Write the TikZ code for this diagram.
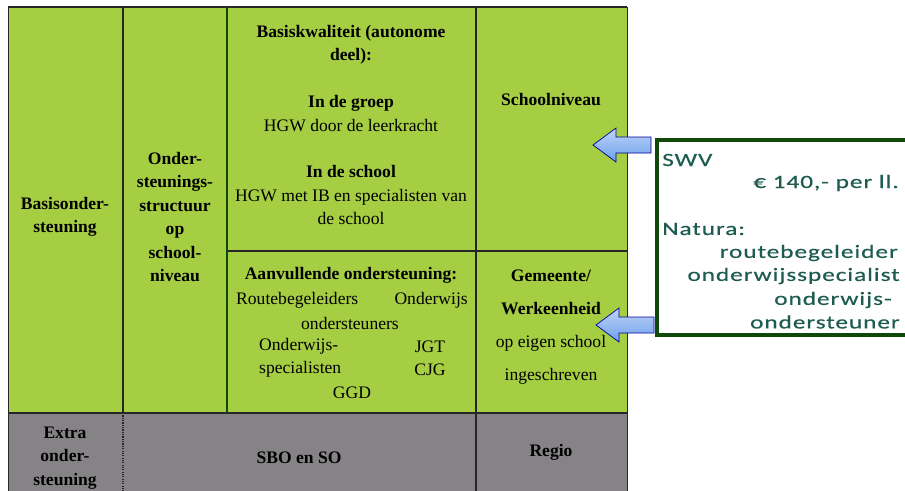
\documentclass[tikz,border=0pt]{standalone}
\usepackage{fontspec}
\setmainfont{Liberation Serif}
\newfontfamily\boxfont[FakeStretch=1.35,LetterSpace=5,FakeBold=0.4]{Carlito}
\usetikzlibrary{shapes,arrows,positioning}

\definecolor{cellgreen}{RGB}{166,206,66}
\definecolor{cellgray}{RGB}{134,131,134}
\definecolor{rimgreen}{RGB}{16,72,10}
\definecolor{boxtext}{RGB}{30,92,80}
\definecolor{arrowblue}{RGB}{110,160,235}

\tikzstyle{cell} = [font=\fontsize{15}{20}\selectfont, align=center, text=black, inner sep=0pt]
\tikzstyle{hcell} = [cell, font=\fontsize{15}{20}\selectfont\bfseries]
\tikzstyle{grid} = [line width=1pt, black!85]
\tikzstyle{boxline} = [font=\boxfont\fontsize{16}{20}\selectfont, text=boxtext, inner sep=0pt]
\tikzstyle{blockarrow} = [draw=blue!60!black, line width=0.6pt, top color=arrowblue!45!white, bottom color=arrowblue]

\begin{document}
\begin{tikzpicture}[x=0.03cm, y=-0.03cm]
\useasboundingbox (0,0) rectangle (905,490);

% cells
\fill[cellgreen] (8,7) rectangle (627,413);
\fill[cellgray] (8,413) rectangle (627,492);

\draw[grid] (8,7) -- (627,7);
\draw[grid] (8,413) -- (627,413);
\draw[grid] (227,251) -- (627,251);
\draw[grid, line width=0.6pt] (8,7) -- (8,492);
\draw[grid, line width=0.6pt] (627,7) -- (627,492);
\draw[grid] (123,7) -- (123,413);
\draw[grid, densely dotted] (123,413) -- (123,492);
\draw[grid, rimgreen, line width=1.5pt] (227,7) -- (227,413);
\draw[grid] (476,7) -- (476,492);

% first column and second column
\node[hcell] (basis) at (65,217) {Basisonder-\\steuning};
\node[hcell] (structuur) at (175,217) {Onder-\\steunings-\\structuur\\op\\school-\\niveau};

% basiskwaliteit
\node[cell] (kwaliteit) at (351,125) {\textbf{Basiskwaliteit (autonome}\\\textbf{deel):}\\[20pt]\textbf{In de groep}\\HGW door de leerkracht\\[20pt]\textbf{In de school}\\HGW met IB en specialisten van\\de school};
\node[hcell] (schoolniveau) at (551,100) {Schoolniveau};

% aanvullende ondersteuning
\node[hcell] (aanvullend) at (351,275) {Aanvullende ondersteuning:};
\node[cell, anchor=west] (route) at (236,300) {Routebegeleiders};
\node[cell, anchor=east] (onderwijs) at (468,300) {Onderwijs};
\node[cell] (ondersteuners) at (350,323) {ondersteuners};
\node[cell, anchor=west, align=left] (specialisten) at (259,358) {Onderwijs-\\specialisten};
\node[cell] (jgt) at (430,358) {JGT\\CJG};
\node[cell] (ggd) at (352,393) {GGD};

\node[cell, font=\fontsize{15}{28}\selectfont] (gemeente) at (551,327) {\textbf{Gemeente/}\\\textbf{Werkeenheid}\\op eigen school\\ingeschreven};

% extra ondersteuning
\node[hcell] (extra) at (65,458) {Extra\\onder-\\steuning};
\node[hcell] (sbo) at (299,458) {SBO en SO};
\node[hcell] (regio) at (551,452) {Regio};

% SWV box
\draw[rimgreen, line width=3pt, fill=white] (657,140) rectangle (915,335);
\node[boxline, anchor=west] (swv) at (662,160) {SWV};
\node[boxline, anchor=east] (bedrag) at (899,183) {€ 140,- per ll.};
\node[boxline, anchor=west] (natura) at (662,229) {Natura:};
\node[boxline, anchor=east] (routeb) at (898,253) {routebegeleider};
\node[boxline, anchor=east] (specialist) at (900,276) {onderwijsspecialist};
\node[boxline, anchor=east] (owijs) at (892,300) {onderwijs-};
\node[boxline, anchor=east] (osteuner) at (900,322) {ondersteuner};

% arrows
\foreach \tx/\ty in {593/145, 596/325}{
	\begin{scope}[shift={(\tx,\ty)}]
	\draw[blockarrow] (0,0) -- (23,-17) -- (23,-8) -- (58,-8) -- (58,8) -- (23,8) -- (23,17) -- cycle;
	\end{scope}
}

\end{tikzpicture}
\end{document}
